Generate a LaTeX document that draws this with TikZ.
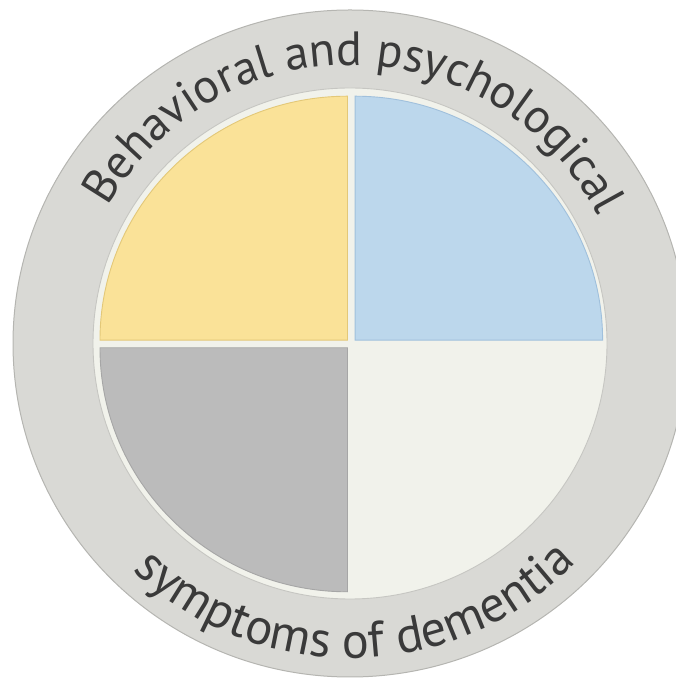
\documentclass[tikz,border=0pt]{standalone}
\usepackage{fontspec}
\setmainfont{PT Sans}
\usetikzlibrary{decorations.text}

\definecolor{ringfill}{HTML}{D9D9D5}
\definecolor{ringline}{HTML}{B5B5B1}
\definecolor{discfill}{HTML}{F1F2EB}
\definecolor{discline}{HTML}{C6C6C2}
\definecolor{yellowfill}{HTML}{FAE298}
\definecolor{yellowline}{HTML}{E3C878}
\definecolor{bluefill}{HTML}{BCD7EC}
\definecolor{blueline}{HTML}{A0C0DC}
\definecolor{grayfill}{HTML}{BBBBBB}
\definecolor{grayline}{HTML}{A6A6A6}
\definecolor{textgray}{HTML}{3A3A3A}

\newcommand\topringfont{\fontsize{48}{54}\selectfont\color{textgray}}
\newcommand\bottomringfont{\fontsize{50.5}{56}\selectfont\color{textgray}}

\begin{document}
\begin{tikzpicture}[x=1pt,y=1pt,
  ring/.style={fill=ringfill, draw=ringline, line width=1pt},
  disc/.style={fill=discfill, draw=discline, line width=0.9pt},
  quadrant/.style={line width=0.9pt, line join=miter},
  ringtext/.style={decorate, decoration={text along path,
      text align=center}}]

\useasboundingbox (0,0) rectangle (676,679);

% outer grey ring
\begin{scope}
  \clip (0,0) rectangle (676,679);
  \draw[ring] (350,335.5) ellipse [x radius=337pt, y radius=333.5pt];
\end{scope}

% inner light disc
\draw[disc] (350,335.5) ellipse [x radius=257pt, y radius=255.5pt];

% quadrants
\draw[quadrant, fill=yellowfill, draw=yellowline]
  (347.5,338.8) -- ++(-247.5,0)
  arc[start angle=180, end angle=90, x radius=247.5pt, y radius=244pt] -- cycle;
\draw[quadrant, fill=bluefill, draw=blueline]
  (355.1,338.8) -- ++(247.5,0)
  arc[start angle=0, end angle=90, x radius=247.5pt, y radius=244pt] -- cycle;
\draw[quadrant, fill=grayfill, draw=grayline]
  (347.5,331.2) -- ++(-247.5,0)
  arc[start angle=180, end angle=270, x radius=247.5pt, y radius=244pt] -- cycle;

% ring captions, centred on their arcs
\path[ringtext, decoration={text={|\topringfont|Behavioral and psychological}}]
  (350.5,335) ++(179:279pt)
  arc[start angle=179, end angle=-1, radius=279pt];
\path[ringtext, decoration={text={|\bottomringfont|symptoms of dementia}}]
  (350.5,335) ++(181:314pt)
  arc[start angle=181, end angle=361, radius=314pt];

\end{tikzpicture}
\end{document}
